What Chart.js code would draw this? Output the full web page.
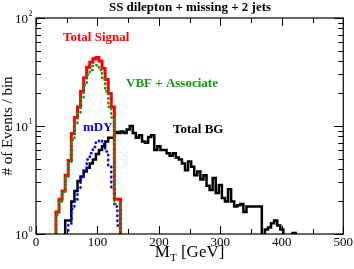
<!DOCTYPE html>
<html><head><meta charset="utf-8">
<script src="https://cdn.jsdelivr.net/npm/chart.js@4/dist/chart.umd.min.js"></script>
<style>html,body{margin:0;padding:0;background:#fff}</style>
</head><body>
<canvas id="c" width="354" height="269"></canvas>
<script>
// ---- data (5 GeV bins; each array starts at the given left bin edge) ----
const binWidth = 5;
const signalStart = 32.5;
const totalSignal = [1.6, 2.1, 2.5, 3.5, 4.8, 8.5, 12, 15, 21, 28, 35, 39, 42, 43, 40, 34, 27, 20, 15, 2.1, 2.1];
const vbfStart = 32.5;
const vbfAssoc   = [1.5, 2.0, 2.4, 3.3, 4.5, 7.4, 10.5, 13, 18, 24, 30, 33, 36, 36.5, 33, 27, 21, 15, 12, 1.9, 1.9];
const mdyStart = 52.5;
const mDY = [1.25, 1.7, 2.1, 2.6, 3.3, 4.0, 4.9, 5.6, 6.4, 7.0, 7.4, 6.8, 5.8, 4.2, 2.6, 1.8, 1.2];
const bgStart = 47.5;
const totalBG = [1.33, 1.33, 2.0, 2.5, 3.1, 3.4, 3.8, 4.1, 4.5, 4.9, 5.5, 6.0, 6.5, 7.2, 7.8, 7.8,
  8.8, 8.6, 8.9, 8.6, 9.3, 10.0, 8.6, 7.8, 8.2, 7.2, 7.0, 7.9, 8.2, 6.0, 6.5, 6.0, 6.0, 5.6, 5.3,
  5.6, 5.1, 4.9, 4.5, 3.9, 4.7, 4.2, 3.5, 3.8, 3.2, 3.5, 2.8, 2.55, 3.3, 2.4, 2.85, 2.15, 2.0, 2.6,
  2.0, 1.8, 1.85, 1.9, 1.6, 1.8, 1.8, 1.8, 1.8, 1.8, 0.5, 1.1, 1.15, 1.26, 1.33, 1.2, 1.1, 0.5, 0.5, 0.5, 1.02];
const xTickLabels = [0, 100, 200, 300, 400, 500];
const yTickExponents = [0, 1, 2];

const LOW = 0.3;
function stepPoints(start, vals) {
  const pts = [{x: start, y: LOW}];
  vals.forEach((v, i) => pts.push({x: start + i * binWidth, y: v}));
  const end = start + vals.length * binWidth;
  pts.push({x: end, y: vals[vals.length - 1]});
  pts.push({x: end, y: LOW});
  return pts;
}

const serif = '"Liberation Serif", "Times New Roman", serif';
const GREEN = '#109a10';

const annotPlugin = {
  id: 'annot',
  afterDatasetsDraw(chart) {
    const {ctx, chartArea: a, scales: {x, y}} = chart;
    ctx.save();
    ctx.strokeStyle = '#000';
    ctx.lineWidth = 1.2;
    ctx.strokeRect(a.left, a.top, a.right - a.left, a.bottom - a.top);
    ctx.lineWidth = 1;
    const seg = (x1, y1, x2, y2) => { ctx.beginPath(); ctx.moveTo(x1, y1); ctx.lineTo(x2, y2); ctx.stroke(); };
    for (let v = 0; v <= 500; v += 50) {
      const px = Math.round(x.getPixelForValue(v)) + 0.5;
      const len = v % 100 === 0 ? 8 : 5;
      seg(px, a.bottom, px, a.bottom - len);
      seg(px, a.top, px, a.top + len);
    }
    for (let d = 0; d < 2; d++) {
      for (let m = 1; m <= 10; m++) {
        const py = Math.round(y.getPixelForValue(m * Math.pow(10, d))) + 0.5;
        const len = (m === 1 || m === 10) ? 9 : 5;
        seg(a.left, py, a.left + len, py);
        seg(a.right, py, a.right - len, py);
      }
    }
    ctx.fillStyle = '#000';
    ctx.textBaseline = 'middle';
    yTickExponents.forEach(e => {
      const py = y.getPixelForValue(Math.pow(10, e));
      ctx.font = '13px ' + serif;
      ctx.textAlign = 'right';
      ctx.fillText('10', 28, py + 2);
      ctx.font = '8px ' + serif;
      ctx.textAlign = 'left';
      ctx.fillText(String(e), 28.5, py - 4);
    });
    ctx.save();
    ctx.translate(8, (a.top + a.bottom) / 2);
    ctx.rotate(-Math.PI / 2);
    ctx.font = '15px ' + serif;
    ctx.textAlign = 'center';
    ctx.textBaseline = 'middle';
    ctx.fillText('# of Events / bin', 0, 0);
    ctx.restore();
    const cx = (a.left + a.right) / 2;
    ctx.textBaseline = 'alphabetic';
    ctx.textAlign = 'left';
    ctx.font = '17px ' + serif;
    const wM = ctx.measureText('M').width;
    const wRest = ctx.measureText(' [GeV]').width;
    ctx.font = '11px ' + serif;
    const wT = ctx.measureText('T').width;
    let sx = cx - (wM + wT + wRest) / 2;
    const by = 257;
    ctx.font = '17px ' + serif;
    ctx.fillText('M', sx, by);
    ctx.font = '11px ' + serif;
    ctx.fillText('T', sx + wM, by + 4);
    ctx.font = '17px ' + serif;
    ctx.fillText(' [GeV]', sx + wM + wT, by);
    ctx.font = 'bold 13px ' + serif;
    ctx.textBaseline = 'middle';
    ctx.fillStyle = '#ff0000'; ctx.fillText('Total Signal', 63, 38);
    ctx.fillStyle = GREEN; ctx.fillText('VBF + Associate', 126, 84);
    ctx.fillStyle = '#0000ff'; ctx.fillText('mDY', 83, 128);
    ctx.fillStyle = '#000'; ctx.fillText('Total BG', 173, 130);
    ctx.restore();
  }
};

const common = {pointRadius: 0, stepped: 'before', fill: false, tension: 0, clip: 0};

new Chart(document.getElementById('c'), {
  type: 'line',
  data: {
    datasets: [
      Object.assign({label: 'VBF + Associate', data: stepPoints(vbfStart, vbfAssoc), borderColor: GREEN, borderWidth: 2.5, borderDash: [0.5, 4], borderCapStyle: 'round'}, common),
      Object.assign({label: 'Total Signal', data: stepPoints(signalStart, totalSignal), borderColor: '#ff0000', borderWidth: 3, borderCapStyle: 'butt'}, common),
      Object.assign({label: 'mDY', data: stepPoints(mdyStart, mDY), borderColor: '#0000ff', borderWidth: 2.5, borderDash: [0.5, 4.5], borderCapStyle: 'round'}, common),
      Object.assign({label: 'Total BG', data: stepPoints(bgStart, totalBG), borderColor: '#000000', borderWidth: 2.5, borderCapStyle: 'butt'}, common)
    ]
  },
  options: {
    responsive: false,
    devicePixelRatio: 1,
    animation: false,
    layout: {padding: {left: 36, right: 10, top: 0, bottom: 0}},
    plugins: {
      legend: {display: false},
      tooltip: {enabled: false},
      title: {display: true, text: 'SS dilepton + missing + 2 jets', color: '#000',
        font: {family: serif, size: 13, weight: 'bold', lineHeight: 1.2}, padding: {top: 0, bottom: 2.4}}
    },
    scales: {
      x: {
        type: 'linear', min: 0, max: 500,
        grid: {display: false, drawTicks: false},
        border: {display: false},
        ticks: {stepSize: 100, color: '#000', font: {family: serif, size: 13}, padding: 1, maxRotation: 0,
          callback: v => xTickLabels.includes(v) ? String(v) : ''},
        afterFit: s => { s.height = 35; }
      },
      y: {
        type: 'logarithmic', min: 1, max: 100, display: false
      }
    }
  },
  plugins: [annotPlugin]
});
</script>
</body></html>
